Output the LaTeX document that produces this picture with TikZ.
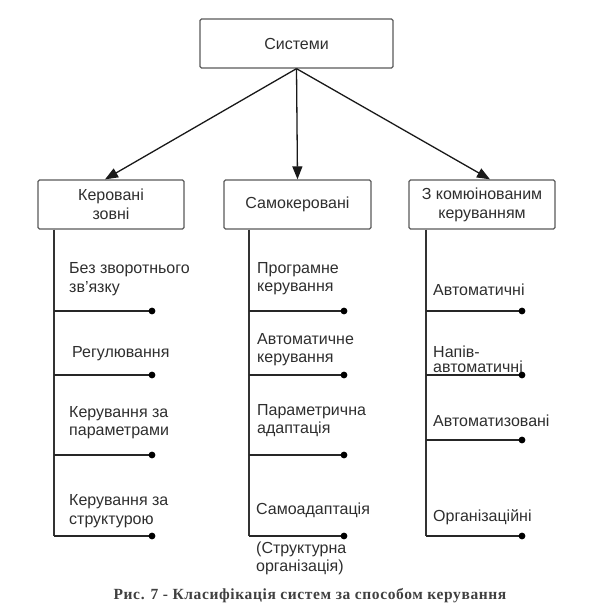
\documentclass[tikz,border=0pt]{standalone}
\usepackage{fontspec}
\setmainfont{Liberation Sans}
\newfontfamily\capfont[LetterSpace=4]{Liberation Serif}
\usetikzlibrary{arrows.meta}
\definecolor{txt}{gray}{0.18}
\definecolor{boxc}{gray}{0.35}
\begin{document}
\begin{tikzpicture}[x=1pt,y=-1pt,
  box/.style={draw=boxc,line width=1.3pt,rounded corners=1.5pt,minimum height=49pt,inner sep=0pt,align=center,text=txt,font=\fontsize{16}{19}\selectfont},
  arr/.style={draw=black!90,line width=1.3pt,-{Triangle[length=13pt,width=10pt]}},
  vline/.style={draw=black!80,line width=1.3pt},
  br/.style={draw=black!85,line width=1.2pt},
  lbl/.style={anchor=west,inner sep=0pt,align=left,text=txt,font=\fontsize{16}{18.5}\selectfont},
  dotc/.style={fill=black}]
\useasboundingbox (0,0) rectangle (605,616);
% boxes
\node[box,minimum width=193pt] (top) at (296.5,43.5) {Системи};
\node[box,minimum width=146pt] (left) at (111,204.5) {Керовані\\зовні};
\node[box,minimum width=147pt] (mid) at (297.5,204.5) {Самокеровані};
\node[box,minimum width=146pt] (right) at (482,204.5) {З комюінованим\\керуванням};
% arrows
\draw[arr] (top.south) -- ([xshift=-6pt]left.north);
\draw[arr] (top.south) -- (mid.north);
\draw[arr] (top.south) -- ([xshift=8pt]right.north);
% branch coordinates
\foreach \n/\y in {1/311,2/375,3/455,4/536}{
  \coordinate (la\n) at (54,\y); \coordinate (ld\n) at (152,\y);
  \coordinate (ma\n) at (249,\y); \coordinate (md\n) at (344,\y);}
\foreach \n/\y in {1/311,2/375,3/440,4/536}{
  \coordinate (ra\n) at (426,\y); \coordinate (rd\n) at (522,\y);}
% verticals
\draw[vline] (left.south -| la4) -- (la4);
\draw[vline] (mid.south -| ma4) -- (ma4);
\draw[vline] (right.south -| ra4) -- (ra4);
% branches
\foreach \c in {l,m,r}{
  \foreach \n in {1,2,3,4}{
    \draw[br] (\c a\n) -- (\c d\n);
    \fill[dotc] (\c d\n) circle (3.4pt);}}
% left labels
\node[lbl] (l1) at (69,279) {Без зворотнього\\зв'язку};
\node[lbl] (l2) at (72,354) {Регулювання};
\node[lbl] (l3) at (69,422.5) {Керування за\\параметрами};
\node[lbl] (l4) at (69,511) {Керування за\\структурою};
% middle labels
\node[lbl] (m1) at (257,278.5) {Програмне\\керування};
\node[lbl] (m2) at (257,349.5) {Автоматичне\\керування};
\node[lbl] (m3) at (257,420.5) {Параметрична\\адаптація};
\node[lbl] (m4) at (256,510) {Самоадаптація};
\node[lbl] (m5) at (256,558.5) {(Структурна\\організація)};
% right labels
\node[lbl] (r1) at (433,290) {Автоматичні};
\node[lbl,font=\fontsize{16}{15.5}\selectfont] (r2) at (433,359.5) {Напів-\\автоматичні};
\node[lbl] (r3) at (433,421) {Автоматизовані};
\node[lbl] (r4) at (433,517) {Організаційні};
% caption
\node[inner sep=0pt,text=black!75,font=\capfont\bfseries\fontsize{15.5}{16}\selectfont] (cap) at (310,596) {Рис. 7 - Класифікація систем за способом керування};
\end{tikzpicture}
\end{document}
